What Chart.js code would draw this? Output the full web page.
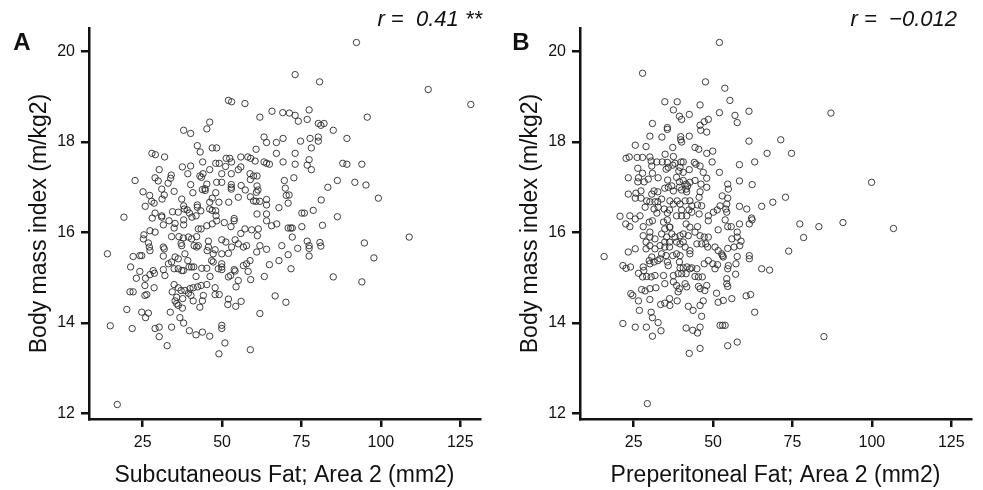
<!DOCTYPE html>
<html>
<head>
<meta charset="utf-8">
<script src="https://cdn.jsdelivr.net/npm/chart.js@4"></script>
<style>
  body { margin: 0; background: #fff; }
  .panel { position: absolute; top: 0; }
</style>
</head>
<body>
<div class="panel" style="left:0"><canvas id="chartA" width="490" height="490"></canvas></div>
<div class="panel" style="left:491px"><canvas id="chartB" width="492" height="490"></canvas></div>
<script>
const xTicks = [25, 50, 75, 100, 125]
const yTicks = [12, 14, 16, 18, 20]

// panel A: subcutaneous fat vs BMI
const subcutFat = [
  52.0,53.0,57.2,61.9,65.7,69.1,71.2,46.1,45.2,37.9,
  40.1,63.2,64.0,69.2,67.1,42.2,43.1,46.9,48.3,60.7,
  67.1,27.9,29.0,31.9,55.9,58.1,59.0,51.3,52.4,53.0,
  60.4,63.2,64.0,64.9,69.2,43.9,48.0,49.1,37.5,40.1,
  46.1,30.2,55.9,55.1,51.1,39.2,44.0,43.0,43.5,49.9,
  52.9,58.8,59.9,61.0,34.0,33.8,33.0,28.9,29.9,22.6,
  58.9,48.3,49.9,45.2,44.6,40.1,56.0,52.9,52.9,52.9,
  61.0,61.3,60.8,69.6,69.9,70.2,71.1,31.0,31.8,31.1,
  25.1,27.2,34.9,40.8,43.8,44.7,48.0,46.9,49.0,57.3,
  55.1,58.9,59.9,60.7,61.9,64.0,64.0,27.8,28.6,25.8,
  37.3,37.9,38.1,42.2,42.2,46.1,46.1,46.9,52.1,67.9,
  70.8,34.4,36.2,39.0,39.7,43.3,48.0,48.1,61.0,64.0,
  19.1,28.9,31.0,53.8,
  92.3,73.0,80.7,114.9,128.3,95.7,77.4,73.0,74.0,76.8,
  80.3,81.1,82.1,85.0,74.7,77.7,80.3,80.3,78.1,89.3,
  73.0,73.0,77.4,76.8,78.1,88.0,89.3,94.0,72.6,86.3,
  91.8,95.3,83.3,81.2,99.2,75.1,75.9,78.7,86.3,
  70.8,71.6,72.1,75.1,81.6,108.9,72.1,76.8,77.4,77.4,
  80.8,81.1,73.8,94.8,70.8,77.4,97.8,71.7,85.0,94.0,70.1,
  28.0,31.0,33.3,35.2,37.9,40.5,41.8,48.3,53.8,52.8,
  45.2,46.9,50.7,31.5,34.9,37.9,42.5,43.4,25.4,25.2,
  27.3,28.9,26.8,27.1,27.3,34.1,36.4,37.8,39.4,42.0,
  37.1,37.3,40.4,41.2,42.5,42.0,45.7,45.7,49.9,51.2,
  54.1,55.9,57.2,59.3,61.4,61.1,61.9,64.0,60.9,57.7,
  56.7,55.1,53.0,52.0,49.9,47.8,47.2,45.3,64.0,65.6,
  67.2,68.8,67.9,64.9,63.3,66.7,61.9,13.9,21.2,22.0,
  24.1,24.7,24.1,23.0,25.9,25.7,28.6,27.3,28.3,28.7,
  31.5,31.8,31.5,34.1,33.1,35.2,36.2,38.3,39.2,39.6,
  40.4,41.1,37.3,37.8,31.5,32.0,34.9,36.2,43.6,45.2,
  46.7,47.2,49.9,49.9,48.8,49.9,53.8,54.1,52.7,52.0,
  55.1,56.7,57.7,58.8,58.2,59.0,54.4,41.8,46.2,47.8,
  45.2,43.4,42.3,40.9,39.9,38.3,37.1,34.9,36.2,34.3,
  47.8,49.1,44.1,43.8,43.0,40.9,40.2,39.4,37.6,35.7,
  35.7,35.2,37.5,36.2,25.7,26.3,21.0,22.0,20.0,24.7,
  26.8,25.9,52.0,51.8,54.3,56.0,33.7,36.7,37.9,34.1,
  39.7,41.8,43.8,46.1,49.9,49.9,50.9,49.0,58.9,14.8,
  21.7,28.9,30.2,30.2,32.7,17.0
]
const bmiA = [
  18.92,18.89,18.85,18.55,18.68,18.65,18.64,18.44,18.29,18.26,
  18.19,18.11,17.99,18.08,17.99,17.92,17.78,17.87,17.87,17.84,
  17.75,17.75,17.72,17.67,17.67,17.67,17.64,17.64,17.64,17.56,
  17.58,17.56,17.53,17.51,17.56,17.56,17.53,17.53,17.45,17.47,
  17.39,17.39,17.45,17.39,17.46,17.30,17.30,17.25,17.22,17.30,
  17.30,17.30,17.25,17.25,17.27,17.20,17.09,17.21,17.14,17.15,
  17.17,17.11,17.11,17.07,16.97,17.06,17.04,17.06,17.00,16.96,
  17.03,16.94,16.89,17.15,16.98,16.82,16.83,16.96,16.83,16.74,
  16.90,16.82,16.91,16.88,16.95,16.93,16.88,16.76,16.67,16.94,
  16.78,16.79,16.70,16.69,16.69,16.73,16.61,16.69,16.65,16.58,
  16.74,16.59,16.52,16.61,16.56,16.67,16.52,16.49,16.67,16.55,
  16.65,16.46,16.45,16.50,16.43,16.48,16.48,16.37,16.41,16.41,
  16.34,16.43,16.37,16.31,
  20.20,19.49,19.33,19.16,18.83,18.55,18.71,18.59,18.46,18.50,
  18.41,18.37,18.41,18.26,18.02,18.08,18.11,18.02,17.87,18.08,
  17.75,17.51,17.61,17.49,17.39,17.53,17.51,17.51,17.21,17.15,
  17.11,17.05,17.00,16.72,16.76,16.43,16.43,16.49,16.35,
  16.10,16.10,16.10,16.13,16.16,15.90,15.90,15.81,15.71,15.65,
  15.78,15.70,15.65,15.77,15.51,15.48,15.44,15.20,15.02,14.91,14.46,
  16.32,16.34,16.26,16.20,16.28,16.34,16.37,16.26,16.26,16.13,
  16.15,16.19,16.22,16.17,16.10,16.17,16.08,16.08,15.95,15.86,
  16.04,16.01,15.77,15.68,15.60,15.91,15.91,15.88,15.90,15.91,
  15.76,15.71,15.86,15.71,15.71,15.68,15.81,15.68,15.84,15.79,
  15.84,15.98,16.08,16.06,16.08,15.93,15.71,15.63,15.57,15.71,
  15.68,15.75,15.68,15.54,15.53,15.62,15.53,15.60,16.26,16.15,
  16.19,15.71,15.38,15.29,15.03,14.60,14.21,15.53,15.24,15.47,
  15.49,15.49,15.14,14.99,14.99,14.83,14.78,15.07,15.16,15.10,
  15.68,15.64,15.48,15.35,15.31,15.46,15.42,15.53,15.38,15.24,
  15.24,15.24,15.16,15.16,15.18,15.05,15.20,15.20,15.21,15.21,
  15.38,15.35,15.31,15.24,15.20,15.18,15.18,15.15,15.05,15.02,
  14.94,15.27,15.31,15.38,15.14,14.96,14.80,15.03,15.03,14.78,
  14.85,14.83,14.80,14.78,14.76,14.72,14.72,14.85,14.78,14.69,
  14.63,14.63,14.61,14.49,14.35,14.49,14.61,14.66,14.54,14.57,
  14.43,14.49,14.33,14.39,14.61,14.63,14.69,14.69,14.30,14.24,
  14.22,14.12,14.53,14.41,14.37,14.48,14.24,14.12,14.00,13.91,
  13.83,13.74,13.80,13.71,13.95,13.88,13.56,13.32,13.41,13.94,
  13.88,13.88,13.91,13.70,13.50,12.20
]

// panel B: preperitoneal fat vs BMI
const preperFat = [
  52.0,27.8,47.6,53.7,55.3,34.8,38.7,37.5,39.4,40.1,
  42.5,45.9,52.0,48.5,47.2,45.9,46.1,48.0,30.9,35.6,
  35.6,30.1,33.9,39.8,39.8,40.1,42.5,25.5,28.9,37.3,
  44.3,45.5,49.9,48.0,22.6,23.6,26.1,27.8,30.1,30.5,
  32.3,34.0,34.9,35.6,37.5,37.3,38.0,39.9,40.6,39.6,
  44.1,44.6,45.9,42.5,49.7,26.3,30.7,35.2,35.9,39.2,
  40.6,46.9,52.0,23.3,26.5,28.3,26.3,27.8,30.9,32.7,
  29.6,35.7,38.5,39.4,40.6,41.5,42.7,42.0,44.3,46.2,
  48.0,54.6,23.3,25.7,27.3,25.5,27.3,29.1,31.4,32.6,
  30.7,34.8,35.9,37.0,37.5,39.4,40.1,41.5,41.7,45.9,
  48.0,45.6,52.9,54.8,30.1,31.7,32.6,33.8,36.4,37.5,
  38.7,39.6,41.2,42.7,43.3,45.1,46.4,28.6,31.4,32.7,
  34.6,36.3,40.1,42.4,50.1,52.2,54.3,51.3,54.0,20.7,
  23.8,27.0,32.3,35.6,38.5,41.7,43.3,45.6,48.5,
  56.9,57.6,61.3,87.1,61.3,71.3,67.0,74.7,58.3,63.1,
  58.3,62.3,54.6,99.9,72.8,68.8,65.3,58.3,60.6,54.3,
  62.1,
  53.8,54.6,55.7,58.3,61.4,62.3,77.3,83.3,90.9,106.8,
  57.6,57.6,55.9,58.8,58.4,56.6,54.6,78.5,73.8,57.6,
  61.4,61.4,57.2,54.8,54.6,57.1,65.3,67.8,54.3,54.3,
  54.6,55.9,60.4,61.8,63.1,53.8,54.6,57.6,84.9,
  22.5,23.8,25.5,28.0,29.9,30.9,34.4,35.6,36.3,40.1,
  41.5,42.7,45.1,48.5,51.6,28.0,30.1,30.1,31.7,33.8,
  34.8,35.4,36.4,37.0,38.0,39.6,40.6,42.2,44.3,45.9,
  47.2,48.5,44.9,46.4,47.7,48.3,34.8,36.3,38.5,39.6,
  40.6,41.2,42.7,42.7,28.9,30.1,28.9,31.7,33.3,34.8,
  36.3,50.6,51.6,52.7,53.2,23.3,25.5,15.7,21.6,22.6,
  24.0,26.5,28.0,28.2,27.8,29.9,30.7,30.1,31.4,32.6,
  33.8,33.3,35.2,35.6,35.9,37.3,38.5,39.6,39.4,39.6,
  40.6,41.8,43.3,44.9,45.4,47.2,48.5,49.9,51.4,53.0,
  50.6,29.1,30.5,31.7,34.4,37.5,39.0,40.1,41.5,42.7,
  44.3,46.6,27.5,28.6,30.1,32.0,34.8,37.5,38.5,39.4,
  41.2,41.7,39.0,45.4,45.9,48.0,47.4,51.1,51.6,53.2,
  24.1,24.7,26.5,30.1,33.5,34.8,36.4,36.3,38.7,42.2,
  43.7,45.9,46.9,46.4,26.8,30.5,30.9,32.7,33.6,29.0,
  25.5,21.6,30.9,41.5,43.6,45.1,45.9,52.2,53.0,42.5,
  45.9,29.3
]
const bmiB = [
  20.20,19.52,19.33,19.19,18.92,18.89,18.89,18.71,18.57,18.50,
  18.61,18.82,18.65,18.50,18.45,18.37,18.26,18.22,18.41,18.32,
  18.28,18.13,18.11,18.12,18.05,18.00,18.13,17.93,17.90,17.88,
  17.88,17.84,17.80,17.75,17.64,17.67,17.66,17.66,17.67,17.58,
  17.56,17.56,17.73,17.55,17.68,17.49,17.53,17.56,17.56,17.44,
  17.55,17.51,17.47,17.39,17.56,17.42,17.47,17.40,17.44,17.36,
  17.33,17.33,17.33,17.21,17.21,17.12,17.12,17.31,17.31,17.21,
  17.18,17.16,17.22,17.12,17.15,17.07,17.11,17.03,17.15,17.07,
  17.20,17.07,16.85,16.87,16.92,16.76,16.76,16.70,16.92,16.90,
  16.85,16.98,17.00,17.03,16.92,17.00,16.94,16.96,16.90,16.90,
  17.00,16.78,16.81,16.96,16.68,16.68,16.68,16.74,16.70,16.63,
  16.70,16.63,16.70,16.70,16.59,16.61,16.59,16.56,16.52,16.56,
  16.52,16.50,16.50,16.50,16.45,16.59,16.63,16.50,16.52,16.36,
  16.37,16.37,16.43,16.43,16.37,16.37,16.45,16.41,16.37,
  18.59,18.43,18.68,18.64,18.02,18.05,17.75,17.75,17.50,17.56,
  17.14,17.06,16.76,17.11,16.78,16.67,16.58,16.58,16.52,16.45,
  16.32,
  16.28,16.13,16.13,16.19,16.19,16.28,16.19,16.13,16.22,16.09,
  16.01,15.90,15.86,15.81,15.71,15.68,15.65,15.89,15.59,15.47,
  15.49,15.42,15.31,15.27,15.20,15.08,15.20,15.17,14.98,14.87,
  14.81,14.54,14.60,14.63,14.24,13.95,13.50,13.58,13.70,
  16.19,16.13,16.30,16.13,16.23,16.26,16.23,16.28,16.12,16.37,
  16.19,16.12,16.13,16.26,16.06,15.93,16.01,15.90,15.86,15.97,
  16.08,15.90,16.12,15.97,15.90,15.93,15.97,15.93,16.01,15.93,
  15.90,15.90,15.75,15.75,15.75,15.68,15.79,15.79,15.79,15.75,
  15.79,15.68,15.60,15.53,15.79,15.71,15.64,15.64,15.71,15.68,
  15.68,15.68,15.60,15.53,15.46,15.57,15.64,15.47,15.27,15.21,
  15.24,15.10,15.24,15.16,15.02,15.38,15.46,15.31,15.35,15.38,
  15.53,15.42,15.49,15.35,15.27,15.49,15.53,15.49,15.35,15.22,
  15.22,15.24,15.22,15.20,15.02,15.31,15.38,15.31,15.29,15.49,
  15.20,15.03,15.02,15.05,15.05,15.05,15.09,15.09,15.09,15.20,
  15.03,15.02,14.74,14.71,14.76,14.78,14.87,14.91,14.83,14.76,
  14.87,14.80,14.69,14.81,14.76,14.83,14.72,14.66,14.46,14.50,
  14.65,14.61,14.49,14.52,14.41,14.44,14.39,14.54,14.49,14.37,
  14.28,14.39,14.49,14.15,14.28,14.24,14.12,14.01,13.83,13.91,
  13.91,13.99,13.71,13.89,13.84,13.78,13.91,13.95,13.95,13.33,
  13.44,12.22
]

const FONT = '"Liberation Sans", Arial, Helvetica, sans-serif'

// panel letter and correlation text
const panelText = {
  id: 'panelText',
  afterDraw(chart, args, opts) {
    const ctx = chart.ctx
    ctx.save()
    ctx.fillStyle = '#111'
    ctx.textBaseline = 'middle'
    ctx.font = 'bold 24px ' + FONT
    ctx.textAlign = 'center'
    ctx.fillText(opts.letter, opts.letterX, 43)
    ctx.font = 'italic 22px ' + FONT
    ctx.textAlign = 'right'
    ctx.fillText(opts.rText, opts.rX, 20)
    ctx.restore()
  }
}

function makeChart(id, xs, ys, xTitle, padRight, letter, letterX, rText, rX) {
  const points = xs.map((x, i) => ({ x: x, y: ys[i] }))
  const axisStyle = {
    border: { display: true, color: '#111', width: 2.5 },
    grid: { drawOnChartArea: false, drawTicks: true, tickLength: 8, color: '#111', lineWidth: 2.5 },
  }
  return new Chart(document.getElementById(id), {
    type: 'scatter',
    data: {
      datasets: [{
        data: points,
        pointStyle: 'circle',
        pointRadius: 3.2,
        pointHoverRadius: 3.2,
        borderWidth: 0.9,
        borderColor: '#2a2a2a',
        backgroundColor: 'rgba(0,0,0,0)'
      }]
    },
    options: {
      responsive: false,
      animation: false,
      events: [],
      layout: { padding: { left: 0, right: padRight, top: 28, bottom: 0 } },
      plugins: {
        legend: { display: false },
        tooltip: { enabled: false },
        panelText: { letter: letter, letterX: letterX, rText: rText, rX: rX }
      },
      scales: {
        x: {
          type: 'linear',
          min: 8.1,
          max: 131.2,
          ...axisStyle,
          afterBuildTicks: s => { s.ticks = xTicks.map(v => ({ value: v })) },
          afterFit: s => { s.height = 71 },
          ticks: { color: '#111', padding: 6, maxRotation: 0, autoSkip: false, font: { family: FONT, size: 16 } },
          title: { display: true, text: xTitle, color: '#111', padding: { top: 0, bottom: 1 }, font: { family: FONT, size: 23, lineHeight: 1.2 } }
        },
        y: {
          type: 'linear',
          min: 11.88,
          max: 20.52,
          ...axisStyle,
          afterBuildTicks: s => { s.ticks = yTicks.map(v => ({ value: v })) },
          afterFit: s => { s.width = 89 },
          ticks: { color: '#111', padding: 6, autoSkip: false, font: { family: FONT, size: 16 } },
          title: { display: true, text: 'Body mass index (m/kg2)', color: '#111', padding: { top: 26, bottom: 0 }, font: { family: FONT, size: 23, lineHeight: 1.2 } }
        }
      }
    },
    plugins: [panelText]
  })
}

makeChart('chartA', subcutFat, bmiA, 'Subcutaneous Fat; Area 2 (mm2)', 10, 'A', 22, 'r =  0.41 **', 482)
makeChart('chartB', preperFat, bmiB, 'Preperitoneal Fat; Area 2 (mm2)', 12, 'B', 30, 'r =  \u22120.012', 466)
</script>
</body>
</html>
